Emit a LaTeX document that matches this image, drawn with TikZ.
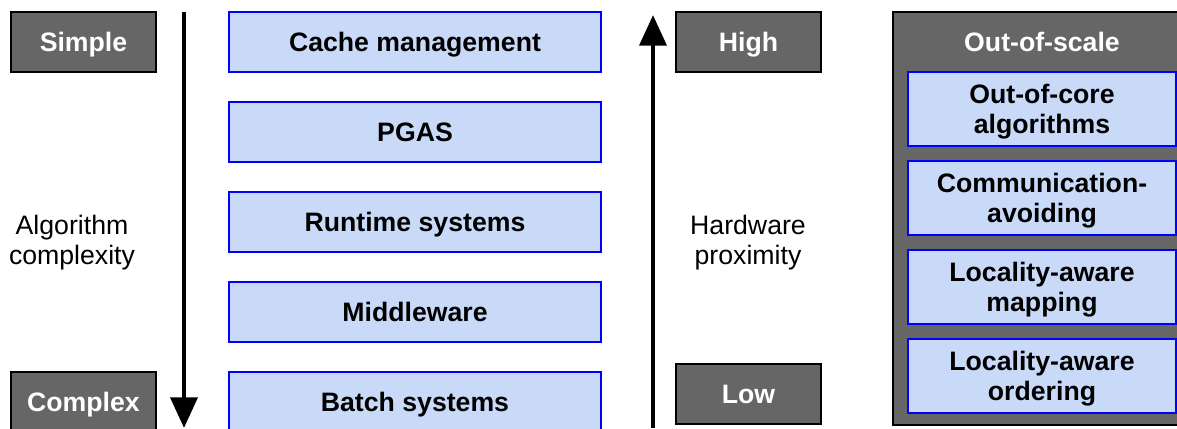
\documentclass[tikz,border=0pt]{standalone}
\usepackage{fontspec}
\setmainfont{Liberation Sans}
\usepackage{xcolor}
\usetikzlibrary{arrows.meta,positioning}

\definecolor{layerblue}{HTML}{C9DAF8}
\definecolor{taggray}{HTML}{666666}
\newcommand{\slidefont}{\fontsize{20}{22.5}\selectfont}

\begin{document}
\begin{tikzpicture}[font=\slidefont]
            \tikzstyle{layer} = [draw=blue, fill=layerblue, rectangle, line width=2.1pt, inner sep=0pt, outer sep=0pt, text depth=0pt, minimum width=279pt, minimum height=45pt, font=\slidefont\bfseries]
            \tikzstyle{tag} = [draw, fill=taggray, text=white, rectangle, line width=1.6pt, inner sep=0pt, outer sep=0pt, text depth=0pt, minimum width=108.75pt, minimum height=45pt, font=\slidefont\bfseries]
            \tikzstyle{scalebox} = [layer, align=center, minimum width=201pt, minimum height=55.5pt]
            \tikzstyle{axis} = [line width=3.6pt, -{Triangle[width=20pt,length=23pt]}]

            \useasboundingbox (0,0) rectangle (882.75pt,-321pt);

            \node [layer] (cache) at (311.25pt,-31.5pt) {Cache management};
            \node [layer, below = 22.5pt of cache] (pgas) {PGAS};
            \node [layer, below = 22.5pt of pgas] (runtime) {Runtime systems};
            \node [layer, below = 22.5pt of runtime] (middleware) {Middleware};
            \node [layer, below = 22.5pt of middleware] (batch) {Batch systems};

            \node [tag, left = 54.75pt of cache] (simple) {Simple};
            \node [tag, left = 54.75pt of batch] (complex) {Complex};
            \node [tag, right = 56.25pt of cache] (high) {High};
            \node [tag, below = 219pt of high] (low) {Low};

            \node [align=center, text depth=0pt] (algo) at (54pt,-180pt) {Algorithm\\complexity};
            \node [align=center, text depth=0pt] (hw) at (561pt,-180pt) {Hardware\\proximity};

            \node [draw, fill=taggray, rectangle, line width=1.6pt, minimum width=223.5pt, minimum height=309.75pt] (outofscale) at (781.5pt,-163.9pt) {};
            \node [text=white, text depth=0pt, font=\slidefont\bfseries] (scaletitle) at (781.5pt,-31.5pt) {Out-of-scale};
            \node [scalebox] (outofcore) at (781.5pt,-81.75pt) {Out-of-core\\algorithms};
            \node [scalebox, below = 11.25pt of outofcore] (commavoid) {Communication-\\avoiding};
            \node [scalebox, below = 11.25pt of commavoid] (mapping) {Locality-aware\\mapping};
            \node [scalebox, below = 11.25pt of mapping] (ordering) {Locality-aware\\ordering};

            \coordinate (algtop) at (138pt,-9pt);
            \coordinate (algbot) at (138pt,-321pt);
            \coordinate (hwbot) at (489.75pt,-321pt);
            \coordinate (hwtop) at (489.75pt,-11.25pt);
            \draw [axis] (algtop) -- (algbot);
            \draw [axis] (hwbot) -- (hwtop);
\end{tikzpicture}
\end{document}
